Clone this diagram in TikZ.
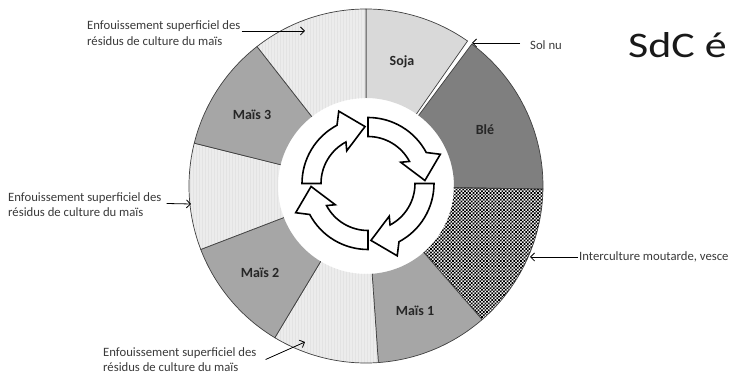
\documentclass[tikz,border=0pt]{standalone}
\usepackage{fontspec}
\setmainfont{Carlito}
\usetikzlibrary{patterns,arrows.meta}
\definecolor{soja}{HTML}{D9D9D9}
\definecolor{ble}{HTML}{7F7F7F}
\definecolor{mais}{HTML}{A6A6A6}
\definecolor{resid}{HTML}{ECECEC}
\definecolor{residline}{HTML}{E3E3E3}
\definecolor{txt}{HTML}{3A3A3A}
\pgfdeclarepatternformonly{finecheck}{\pgfqpoint{-0.1pt}{-0.1pt}}{\pgfqpoint{3.5pt}{3.5pt}}{\pgfqpoint{3.4pt}{3.4pt}}{%
  \pgfpathrectangle{\pgfqpoint{0pt}{0pt}}{\pgfqpoint{1.7pt}{1.7pt}}%
  \pgfpathrectangle{\pgfqpoint{1.7pt}{1.7pt}}{\pgfqpoint{1.7pt}{1.7pt}}%
  \pgfusepath{fill}}
\pgfdeclarepatternformonly{finevlines}{\pgfqpoint{-0.1pt}{-0.1pt}}{\pgfqpoint{3.1pt}{3.1pt}}{\pgfqpoint{3pt}{3pt}}{%
  \pgfsetlinewidth{0.4pt}%
  \pgfpathmoveto{\pgfqpoint{1.5pt}{-0.1pt}}\pgfpathlineto{\pgfqpoint{1.5pt}{3.1pt}}%
  \pgfusepath{stroke}}
\newcommand{\donutseg}[3]{%
  \fill[#3] (#1:88pt) -- (#1:177pt) arc[start angle=#1, end angle=#2, radius=177pt]
     -- (#2:88pt) arc[start angle=#2, end angle=#1, radius=88pt] -- cycle;
  \draw[segline] (#1:88pt) -- (#1:177pt) arc[start angle=#1, end angle=#2, radius=177pt] -- (#2:88pt);
}
\newcommand{\cycarrow}[1]{%
  \draw[cyc] (#1:66pt) arc[start angle=#1, end angle=#1-62, radius=66pt]
     -- ({#1-68}:78pt) -- ({#1-87}:57pt) -- ({#1-57}:39pt) -- ({#1-62}:47pt)
     arc[start angle=#1-62, end angle=#1, radius=47pt] -- cycle;
}
\tikzset{
  segline/.style={draw=black!75, line width=0.7pt},
  residfill/.style={fill=resid, postaction={pattern=finevlines, pattern color=residline}},
  cyc/.style={draw=black, fill=white, line width=1.6pt, line join=miter},
  lbl/.style={font=\fontsize{12.7}{15.5}\selectfont, text=txt, align=left, inner sep=0pt},
  seglbl/.style={font=\bfseries\fontsize{14}{16}\selectfont, text=black!85, inner sep=0pt},
  ptr/.style={draw=black, line width=0.8pt, -{Straight Barb[length=4pt,width=8pt]}}
}
\begin{document}
\begin{tikzpicture}[x=1pt,y=1pt]
\useasboundingbox (-366,-188) rectangle (365,186);
\fill[white] (-366,-188) rectangle (365,186);
% donut segments (clockwise from top)
\donutseg{90}{55}{soja}
\donutseg{53.3}{-1}{ble}
\donutseg{-1}{-49}{pattern=finecheck, pattern color=black}
\donutseg{-49}{-86}{mais}
\donutseg{-86}{-121}{residfill}
\donutseg{-121}{-159}{mais}
\donutseg{-159}{-194}{residfill}
\donutseg{-194}{-232}{mais}
\donutseg{-232}{-270}{residfill}
% segment labels
\node[seglbl] (soja) at (36,124) {Soja};
\node[seglbl] (ble) at (119,56) {Blé};
\node[seglbl] (m3) at (-114,71) {Maïs 3};
\node[seglbl] (m2) at (-106,-87) {Maïs 2};
\node[seglbl] (m1) at (49,-125) {Maïs 1};
% central cycle arrows
\begin{scope}[shift={(2,2.5)}]
\cycarrow{180}
\cycarrow{90}
\cycarrow{0}
\cycarrow{-90}
\end{scope}
% outer labels
\node[lbl, anchor=west] (resA) at (-279,153) {Enfouissement superficiel des\\résidus de culture du maïs};
\node[lbl, anchor=west] (resB) at (-358,-18.5) {Enfouissement superficiel des\\résidus de culture du maïs};
\node[lbl, anchor=west] (resC) at (-263,-173.5) {Enfouissement superficiel des\\résidus de culture du maïs};
\node[lbl, anchor=west] (solnu) at (164,141) {Sol nu};
\node[lbl, anchor=west] (inter) at (213,-71) {Interculture moutarde, vesce};
\node[anchor=base west, inner sep=0pt, font=\fontsize{36}{40}\selectfont, text=black!90] (sdc) at (262,128) {\scalebox{1.22}[1]{SdC é}};
% pointers
\coordinate (tipA) at (-61,155);
\coordinate (tipB) at (-175,-18);
\coordinate (tipC) at (-61,-156);
\coordinate (tipS) at (106,143);
\coordinate (tipI) at (164,-71);
\draw[ptr] ([xshift=1pt,yshift=2pt]resA.east) -- (tipA);
\draw[ptr] ([xshift=5pt,yshift=1pt]resB.east) -- (tipB);
\draw[ptr] ([xshift=9pt]resC.east) -- (tipC);
\draw[ptr] ([xshift=-10pt,yshift=2pt]solnu.west) -- (tipS);
\draw[ptr] ([xshift=-1pt]inter.west) -- (tipI);
\end{tikzpicture}
\end{document}
